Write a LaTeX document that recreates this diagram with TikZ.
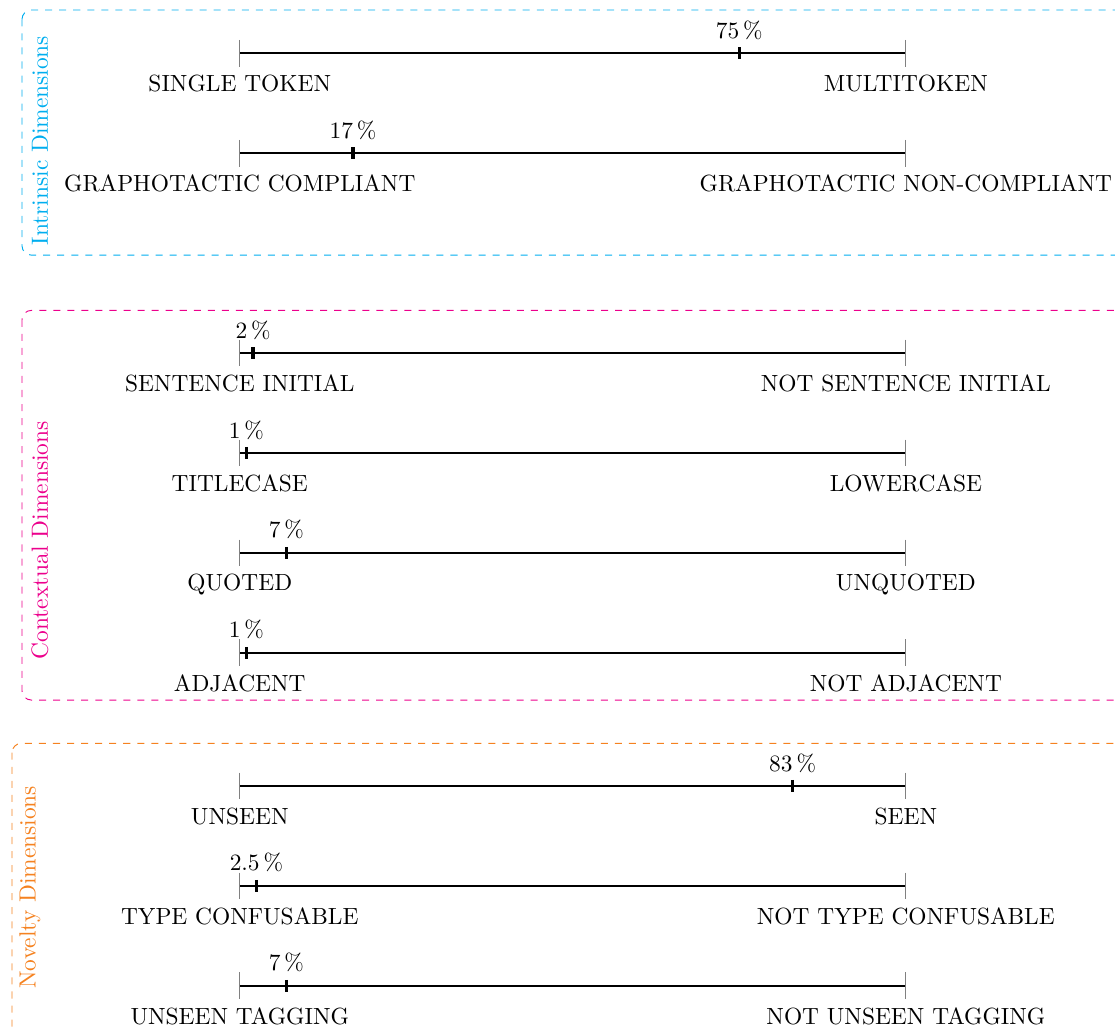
\documentclass[tikz,border=0pt]{standalone}
\usepackage{amsmath}
\usepackage{tikz}
\usetikzlibrary{positioning}

\definecolor{intrinsiccol}{RGB}{0,174,239}
\definecolor{contextcol}{RGB}{236,0,140}
\definecolor{noveltycol}{RGB}{245,130,32}

\begin{document}
\begin{tikzpicture}[
      scaleline/.style={thick,black},
      endtick/.style={gray,thin},
      marktick/.style={black,line width=1.4pt},
      pole/.style={below=0.2cm of #1},
      share/.style={above=0.08cm of #1},
      dimbox/.style={dashed,rounded corners=4pt},
      dimlabel/.style={rotate=90}]
  \useasboundingbox (-3.60,0.80) rectangle (13.14,-14.67);

  % intrinsic dimensions
  \draw[dimbox,intrinsiccol] (-3.27,0.65) rectangle (14,-3.03);
  \node[dimlabel,text=intrinsiccol] (intrinsic) at (-3.0,-1.31) {Intrinsic Dimensions};

  \coordinate (single) at (0,0);
  \coordinate (multi) at (10,0);
  \coordinate (tokmark) at (7.5,0);
  \draw[scaleline] (single) -- (multi);
  \draw[endtick] (single) ++(0,0.2) -- ++(0,-0.4);
  \draw[endtick] (multi) ++(0,0.2) -- ++(0,-0.4);
  \draw[marktick] (tokmark) ++(0,0.09) -- ++(0,-0.18);
  \node[pole=single] (singlelbl) {SINGLE TOKEN};
  \node[pole=multi] (multilbl) {MULTITOKEN};
  \node[share=tokmark] (tokpct) {75\,\%};

  \coordinate (compl) at (0,-1.5);
  \coordinate (noncompl) at (10,-1.5);
  \coordinate (graphmark) at (1.7,-1.5);
  \draw[scaleline] (compl) -- (noncompl);
  \draw[endtick] (compl) ++(0,0.2) -- ++(0,-0.4);
  \draw[endtick] (noncompl) ++(0,0.2) -- ++(0,-0.4);
  \draw[marktick] (graphmark) ++(0,0.09) -- ++(0,-0.18);
  \node[pole=compl] (compllbl) {GRAPHOTACTIC COMPLIANT};
  \node[pole=noncompl] (noncompllbl) {GRAPHOTACTIC NON-COMPLIANT};
  \node[share=graphmark] (graphpct) {17\,\%};

  % contextual dimensions
  \draw[dimbox,contextcol] (-3.27,-3.86) rectangle (14,-9.71);
  \node[dimlabel,text=contextcol] (contextual) at (-3.0,-7.31) {Contextual Dimensions};

  \coordinate (sentinit) at (0,-4.5);
  \coordinate (notsentinit) at (10,-4.5);
  \coordinate (sentmark) at (0.2,-4.5);
  \draw[scaleline] (sentinit) -- (notsentinit);
  \draw[endtick] (sentinit) ++(0,0.2) -- ++(0,-0.4);
  \draw[endtick] (notsentinit) ++(0,0.2) -- ++(0,-0.4);
  \draw[marktick] (sentmark) ++(0,0.09) -- ++(0,-0.18);
  \node[pole=sentinit] (sentinitlbl) {SENTENCE INITIAL};
  \node[pole=notsentinit] (notsentinitlbl) {NOT SENTENCE INITIAL};
  \node[share=sentmark] (sentpct) {2\,\%};

  \coordinate (title) at (0,-6.0);
  \coordinate (lower) at (10,-6.0);
  \coordinate (casemark) at (0.1,-6.0);
  \draw[scaleline] (title) -- (lower);
  \draw[endtick] (title) ++(0,0.2) -- ++(0,-0.4);
  \draw[endtick] (lower) ++(0,0.2) -- ++(0,-0.4);
  \draw[marktick] (casemark) ++(0,0.09) -- ++(0,-0.18);
  \node[pole=title] (titlelbl) {TITLECASE};
  \node[pole=lower] (lowerlbl) {LOWERCASE};
  \node[share=casemark] (casepct) {1\,\%};

  \coordinate (quoted) at (0,-7.5);
  \coordinate (unquoted) at (10,-7.5);
  \coordinate (quotemark) at (0.7,-7.5);
  \draw[scaleline] (quoted) -- (unquoted);
  \draw[endtick] (quoted) ++(0,0.2) -- ++(0,-0.4);
  \draw[endtick] (unquoted) ++(0,0.2) -- ++(0,-0.4);
  \draw[marktick] (quotemark) ++(0,0.09) -- ++(0,-0.18);
  \node[pole=quoted] (quotedlbl) {QUOTED};
  \node[pole=unquoted] (unquotedlbl) {UNQUOTED};
  \node[share=quotemark] (quotepct) {7\,\%};

  \coordinate (adj) at (0,-9.0);
  \coordinate (notadj) at (10,-9.0);
  \coordinate (adjmark) at (0.1,-9.0);
  \draw[scaleline] (adj) -- (notadj);
  \draw[endtick] (adj) ++(0,0.2) -- ++(0,-0.4);
  \draw[endtick] (notadj) ++(0,0.2) -- ++(0,-0.4);
  \draw[marktick] (adjmark) ++(0,0.09) -- ++(0,-0.18);
  \node[pole=adj] (adjlbl) {ADJACENT};
  \node[pole=notadj] (notadjlbl) {NOT ADJACENT};
  \node[share=adjmark] (adjpct) {1\,\%};

  % novelty dimensions
  \draw[dimbox,noveltycol] (-3.42,-10.36) rectangle (14,-15.5);
  \node[dimlabel,text=noveltycol] (novelty) at (-3.15,-12.52) {Novelty Dimensions};

  \coordinate (unseen) at (0,-11.0);
  \coordinate (seen) at (10,-11.0);
  \coordinate (seenmark) at (8.3,-11.0);
  \draw[scaleline] (unseen) -- (seen);
  \draw[endtick] (unseen) ++(0,0.2) -- ++(0,-0.4);
  \draw[endtick] (seen) ++(0,0.2) -- ++(0,-0.4);
  \draw[marktick] (seenmark) ++(0,0.09) -- ++(0,-0.18);
  \node[pole=unseen] (unseenlbl) {UNSEEN};
  \node[pole=seen] (seenlbl) {SEEN};
  \node[share=seenmark] (seenpct) {83\,\%};

  \coordinate (confus) at (0,-12.5);
  \coordinate (notconfus) at (10,-12.5);
  \coordinate (confusmark) at (0.25,-12.5);
  \draw[scaleline] (confus) -- (notconfus);
  \draw[endtick] (confus) ++(0,0.2) -- ++(0,-0.4);
  \draw[endtick] (notconfus) ++(0,0.2) -- ++(0,-0.4);
  \draw[marktick] (confusmark) ++(0,0.09) -- ++(0,-0.18);
  \node[pole=confus] (confuslbl) {TYPE CONFUSABLE};
  \node[pole=notconfus] (notconfuslbl) {NOT TYPE CONFUSABLE};
  \node[share=confusmark] (confuspct) {2.5\,\%};

  \coordinate (tagging) at (0,-14.0);
  \coordinate (nottagging) at (10,-14.0);
  \coordinate (tagmark) at (0.7,-14.0);
  \draw[scaleline] (tagging) -- (nottagging);
  \draw[endtick] (tagging) ++(0,0.2) -- ++(0,-0.4);
  \draw[endtick] (nottagging) ++(0,0.2) -- ++(0,-0.4);
  \draw[marktick] (tagmark) ++(0,0.09) -- ++(0,-0.18);
  \node[pole=tagging] (tagginglbl) {UNSEEN TAGGING};
  \node[pole=nottagging] (nottagginglbl) {NOT UNSEEN TAGGING};
  \node[share=tagmark] (tagpct) {7\,\%};
\end{tikzpicture}
\end{document}
